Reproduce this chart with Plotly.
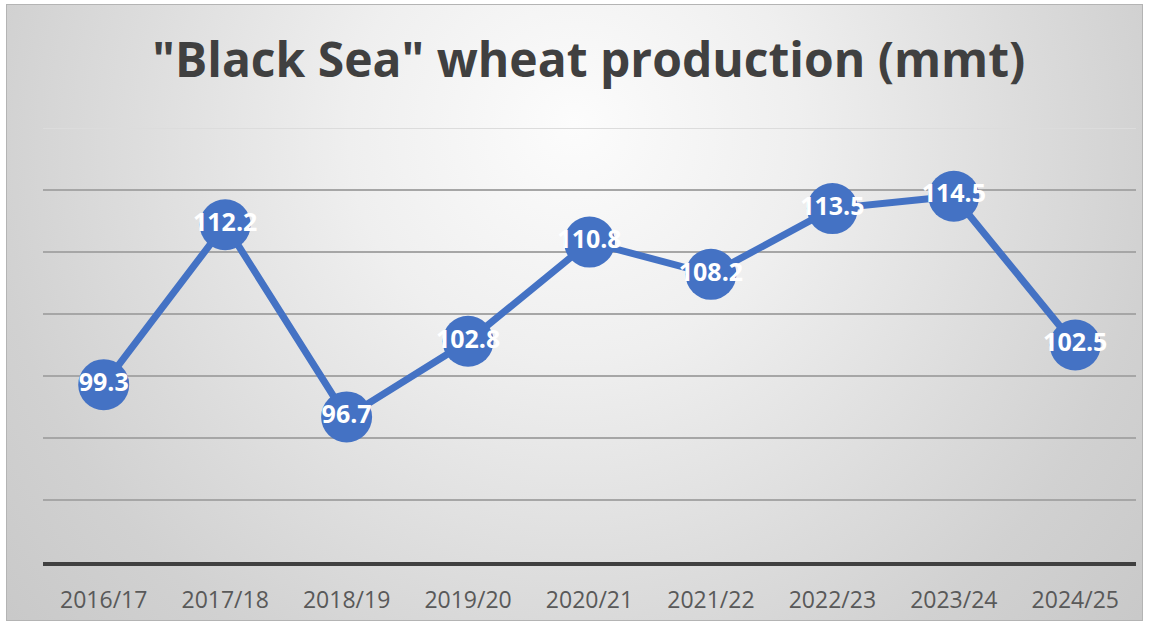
import base64
import plotly.graph_objects as go

seasons = ["2016/17", "2017/18", "2018/19", "2019/20", "2020/21",
           "2021/22", "2022/23", "2023/24", "2024/25"]
production = [99.3, 112.2, 96.7, 102.8, 110.8, 108.2, 113.5, 114.5, 102.5]
labels = ["99.3", "112.2", "96.7", "102.8", "110.8", "108.2", "113.5", "114.5", "102.5"]
title_text = '"Black Sea" wheat production (mmt)'
y_min, y_max, y_step = 85, 120, 5

W, H = 1166, 627
ML, MR, MT, MB = 43, 30, 128, 65
pw = W - ML - MR
ph = H - MT - MB

svg = (
    '<svg xmlns="http://www.w3.org/2000/svg" width="1137" height="617" '
    'viewBox="0 0 1137 617" preserveAspectRatio="none">'
    '<defs><radialGradient id="g" gradientUnits="userSpaceOnUse" cx="568" cy="150" r="750" '
    'fx="568" fy="120">'
    '<stop offset="0" stop-color="#fcfcfc"/>'
    '<stop offset="0.3" stop-color="#efefef"/>'
    '<stop offset="0.6" stop-color="#dcdcdc"/>'
    '<stop offset="0.78" stop-color="#d1d1d1"/>'
    '<stop offset="1" stop-color="#c8c8c8"/>'
    '</radialGradient></defs>'
    '<rect x="0" y="0" width="1137" height="617" fill="url(#g)"/>'
    '<rect x="0.5" y="0.5" width="1136" height="616" fill="none" '
    'stroke="#b4b4b4" stroke-width="1"/></svg>'
)
uri = "data:image/svg+xml;base64," + base64.b64encode(svg.encode()).decode()

bx0, bx1, by0, by1 = 6, 1143, 4, 621
img_x = (bx0 - ML) / pw
img_sx = (bx1 - bx0) / pw
img_y = (H - MB - by0) / ph
img_sy = (by1 - by0) / ph

fig = go.Figure()
fig.add_trace(go.Scatter(
    x=seasons, y=production, text=labels,
    mode="lines+markers+text",
    line=dict(color="#4472C4", width=7),
    marker=dict(color="#4472C4", size=51),
    textposition="middle center",
    textfont=dict(family="Open Sans", size=25, color="white", weight="bold"),
    cliponaxis=False,
    hoverinfo="skip",
))

fig.add_shape(type="line", xref="paper", yref="y", x0=0, x1=1, y0=y_max, y1=y_max,
              line=dict(color="#dcdcdc", width=2), layer="below")

fig.update_layout(
    width=W, height=H,
    margin=dict(l=ML, r=MR, t=MT, b=MB),
    paper_bgcolor="white",
    plot_bgcolor="rgba(0,0,0,0)",
    showlegend=False,
    title=dict(text=title_text, x=0.505, xanchor="center", y=1 - 60 / H, yanchor="middle",
               font=dict(family="Open Sans", size=48, color="#404040", weight="bold")),
    images=[dict(source=uri, xref="paper", yref="paper", x=img_x, y=img_y,
                 sizex=img_sx, sizey=img_sy, xanchor="left", yanchor="top",
                 sizing="stretch", layer="below")],
    xaxis=dict(showgrid=False, showline=True, linecolor="#404040", linewidth=4,
               ticks="", tickfont=dict(family="Open Sans", size=23, color="#595959"),
               ticklabelstandoff=14,
               range=[-0.5, len(seasons) - 0.5], fixedrange=True),
    yaxis=dict(range=[y_min, y_max], dtick=y_step, tick0=y_min, showgrid=True,
               gridcolor="#a6a6a6", gridwidth=2, showticklabels=False, ticks="",
               zeroline=False, showline=False, fixedrange=True),
)

fig.write_html("out.html", config={"displayModeBar": False},
               post_script="document.body.style.margin='0';")
